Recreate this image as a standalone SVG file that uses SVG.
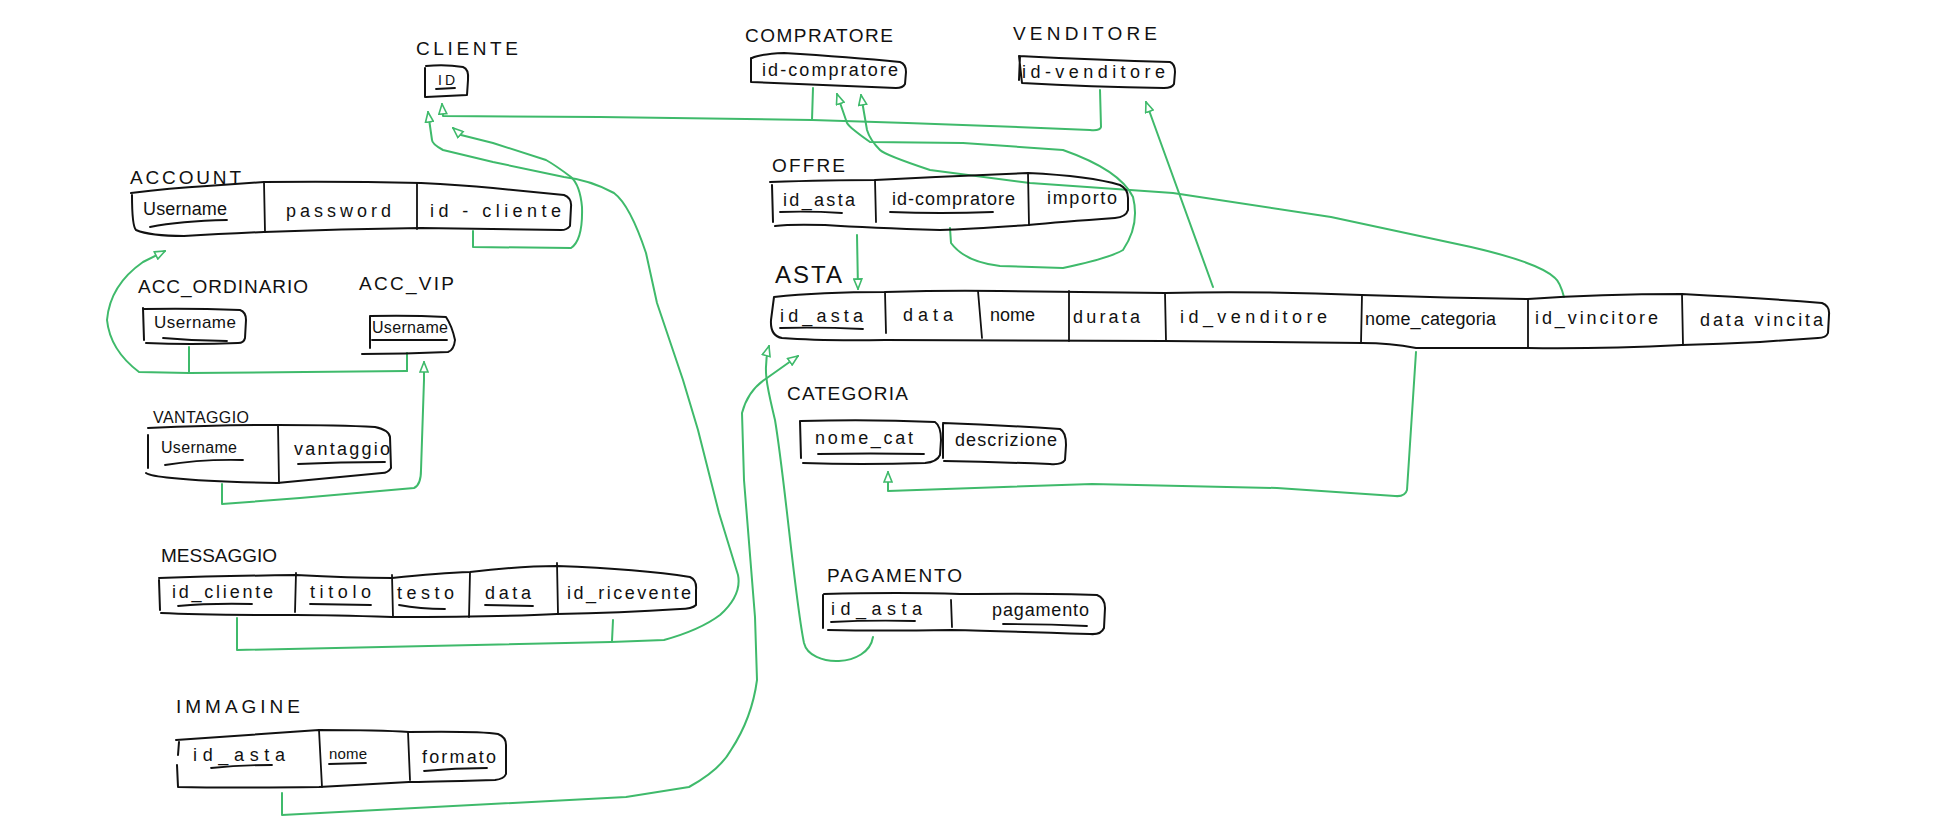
<svg xmlns="http://www.w3.org/2000/svg" width="1935" height="840" viewBox="0 0 1935 840">
<style>
.bx{fill:none;stroke:#111;stroke-width:2;stroke-linejoin:round;stroke-linecap:round}
.dv{fill:none;stroke:#111;stroke-width:1.8;stroke-linecap:round}
.ul{fill:none;stroke:#111;stroke-width:1.8;stroke-linecap:round}
.t{font-family:"Liberation Sans",Arial,sans-serif;font-size:18px;fill:#111}
.l{font-family:"Liberation Sans",Arial,sans-serif;font-size:19px;fill:#111}
.c{fill:none;stroke:#3fba6b;stroke-width:2;stroke-linejoin:round;stroke-linecap:round}
.ca{fill:none;stroke:#3fba6b;stroke-width:2;stroke-linejoin:round;stroke-linecap:round;marker-end:url(#a)}
</style>
<defs>
<marker id="a" viewBox="0 0 12 10" refX="11" refY="5" markerWidth="12" markerHeight="10" markerUnits="userSpaceOnUse" orient="auto">
<path d="M1,1 L11,5 L1,9 Z" fill="#fff" stroke="#3fba6b" stroke-width="1.6"/>
</marker>
</defs>
<rect width="1935" height="840" fill="#fff"/>

<g id="connectors">
<path class="ca" d="M1100,90 L1101,127 Q1100,131 1090,130 Q950,124 812,120 L600,117 L443,116 L442,104"/>
<path class="c" d="M813,88 L812,120"/>
<path class="ca" d="M473,231 L473,247 L571,248 Q583,240 582,207 Q580,185 571,177 Q555,165 546,160 L493,143 L461,135 L453,128"/>
<path class="ca" d="M237,618 L237,650 L611,642 L664,640 Q700,630 720,615 Q742,595 738,575 L719,513 L698,430 L683,380 L657,303 L646,253 Q630,205 614,193 Q590,180 564,177 L493,162 L443,150 Q432,144 432,140 L428,112"/>
<path class="c" d="M613,620 L612,641"/>
<path class="ca" d="M222,484 L222,504 L300,498 L414,488 Q421,485 421,470 L424,380 L424,362"/>
<path class="c" d="M189,347 L189,373"/>
<path class="c" d="M407,353 L407,371"/>
<path class="ca" d="M407,371 L189,373 L139,372 Q110,350 107,320 Q110,285 143,262 L165,251"/>
<path class="ca" d="M857,235 L858,289"/>
<path class="ca" d="M950,228 L951,243 Q965,262 1000,266 L1063,268 Q1110,258 1123,250 Q1140,225 1133,197 Q1120,170 1063,150 L963,143 L870,142 Q850,128 847,123 L837,94"/>
<path class="ca" d="M1564,297 Q1560,282 1555,278 Q1540,263 1471,247 L1331,217 L1173,193 L1130,190 L1030,183 L930,170 Q885,155 880,150 Q870,140 867,130 L861,95"/>
<path class="ca" d="M1213,287 L1146,102"/>
<path class="ca" d="M1416,352 L1407,490 Q1405,497 1395,496 L1277,488 L1092,484 L888,491 L888,472"/>
<path class="ca" d="M873,637 C868,668 810,668 804,643 C795,600 785,480 775,420 C768,390 762,370 769,346"/>
<path class="ca" d="M282,793 L282,815 L626,797 L689,787 Q720,770 731,750 Q752,718 757,680 L755,617 L744,480 L742,413 Q748,390 767,378 L798,356"/>
</g>

<g id="cliente">
<text class="l" x="416" y="55" textLength="102" lengthAdjust="spacing">CLIENTE</text>
<path class="bx" d="M426,66 Q445,64 463,67 Q469,69 468,80 L467,95 L426,97 M425,68 L425,97"/>
<text class="t" x="438" y="85" style="font-size:14px" textLength="17" lengthAdjust="spacing">ID</text>
<path class="ul" d="M436,89 L455,88"/>
</g>

<g id="account">
<text class="l" x="130" y="184" textLength="111" lengthAdjust="spacing">ACCOUNT</text>
<path class="bx" d="M131,193 Q170,188 207,186 L264,182 Q340,181 421,183 Q460,185 493,188 L564,195 Q572,198 571,207 L570,226 Q567,230 561,230 L421,228 Q340,229 264,232 Q220,234 184,236 Q150,236 136,230 Q132,226 132,195"/>
<path class="dv" d="M264,182 L265,232 M417,183 L417,229"/>
<text class="t" x="143" y="215" textLength="84" lengthAdjust="spacing">Username</text>
<path class="ul" d="M150,227 Q180,221 227,220"/>
<text class="t" x="286" y="217" textLength="105" lengthAdjust="spacing">password</text>
<text class="t" x="430" y="217" textLength="131" lengthAdjust="spacing">id - cliente</text>
</g>

<g id="acc_ordinario">
<text class="l" x="138" y="293" textLength="170" lengthAdjust="spacing">ACC_ORDINARIO</text>
<path class="bx" d="M144,309 Q190,308 240,310 Q246,312 246,320 L245,338 Q244,343 238,343 Q190,345 146,343 M143,308 L144,340"/>
<text class="t" x="154" y="328" style="font-size:17px" textLength="82" lengthAdjust="spacing">Username</text>
<path class="ul" d="M163,338 Q195,341 227,341"/>
</g>

<g id="acc_vip">
<text class="l" x="359" y="290" textLength="95" lengthAdjust="spacing">ACC_VIP</text>
<path class="bx" d="M370,316 Q410,315 446,317 Q452,326 455,340 Q454,350 448,352 Q405,354 362,354 M370,316 L370,348"/>
<text class="t" x="372" y="333" style="font-size:16px" textLength="76" lengthAdjust="spacing">Username</text>
<path class="ul" d="M372,340 L447,340"/>
</g>

<g id="vantaggio">
<text class="l" x="153" y="423" style="font-size:16px" textLength="96" lengthAdjust="spacing">VANTAGGIO</text>
<path class="bx" d="M148,428 Q220,425 278,425 Q340,425 375,427 Q389,430 390,437 L391,468 Q388,473 382,473 Q330,478 277,483 Q210,482 172,478 Q150,476 146,473 M148,435 L148,468"/>
<path class="dv" d="M278,425 L279,483"/>
<text class="t" x="161" y="453" style="font-size:16px" textLength="76" lengthAdjust="spacing">Username</text>
<path class="ul" d="M165,465 Q200,459 243,460"/>
<text class="t" x="294" y="455" textLength="96" lengthAdjust="spacing">vantaggio</text>
<path class="ul" d="M298,464 Q340,462 385,462"/>
</g>

<g id="messaggio">
<text class="l" x="161" y="562" textLength="116" lengthAdjust="spacing">MESSAGGIO</text>
<path class="bx" d="M159,578 Q220,576 296,575 Q350,578 392,578 Q440,573 470,572 Q520,566 557,566 Q640,569 690,577 Q697,580 696,590 L696,605 Q692,609 680,609 Q620,613 557,614 Q500,617 392,617 Q330,615 296,615 Q200,615 161,613 M159,580 L160,610"/>
<path class="dv" d="M296,573 L295,612 M392,575 L393,617 M470,573 L469,617 M557,563 L558,614"/>
<text class="t" x="172" y="598" textLength="101" lengthAdjust="spacing">id_cliente</text>
<path class="ul" d="M178,606 Q210,603 252,604"/>
<text class="t" x="310" y="598" textLength="61" lengthAdjust="spacing">titolo</text>
<path class="ul" d="M310,604 L371,605"/>
<text class="t" x="397" y="599" textLength="57" lengthAdjust="spacing">testo</text>
<path class="ul" d="M399,605 Q420,609 445,609"/>
<text class="t" x="485" y="599" textLength="46" lengthAdjust="spacing">data</text>
<path class="ul" d="M485,605 L533,606"/>
<text class="t" x="567" y="599" textLength="124" lengthAdjust="spacing">id_ricevente</text>
</g>

<g id="immagine">
<text class="l" x="176" y="713" textLength="124" lengthAdjust="spacing">IMMAGINE</text>
<path class="bx" d="M176,740 Q250,735 319,730 Q380,730 409,732 Q480,731 498,734 Q506,737 506,745 L506,774 Q504,779 495,780 Q420,782 409,782 Q340,786 319,787 Q230,788 178,787 L177,765 M179,742 L178,755"/>
<path class="dv" d="M319,730 L322,787 M408,732 L410,780"/>
<text class="t" x="193" y="761" textLength="92" lengthAdjust="spacing">id_asta</text>
<path class="ul" d="M211,768 Q240,765 272,765"/>
<text class="t" x="329" y="759" style="font-size:15px" textLength="38" lengthAdjust="spacing">nome</text>
<path class="ul" d="M329,764 L366,763"/>
<text class="t" x="422" y="763" textLength="74" lengthAdjust="spacing">formato</text>
<path class="ul" d="M424,771 Q455,768 487,768"/>
</g>

<g id="compratore">
<text class="l" x="745" y="42" textLength="148" lengthAdjust="spacing">COMPRATORE</text>
<path class="bx" d="M752,58 Q760,54 784,53 Q850,57 900,62 Q906,64 906,72 L905,84 Q903,88 896,88 Q820,85 751,82 L751,58"/>
<text class="t" x="762" y="76" textLength="136" lengthAdjust="spacing">id-compratore</text>
</g>

<g id="venditore">
<text class="l" x="1013" y="40" textLength="144" lengthAdjust="spacing">VENDITORE</text>
<path class="bx" d="M1019,56 Q1100,60 1170,62 Q1175,64 1175,72 L1174,84 Q1172,88 1164,88 Q1090,87 1022,83 L1019,56 M1020,56 L1019,80"/>
<text class="t" x="1022" y="78" textLength="143" lengthAdjust="spacing">id-venditore</text>
</g>

<g id="offre">
<text class="l" x="772" y="172" textLength="73" lengthAdjust="spacing">OFFRE</text>
<path class="bx" d="M770,182 Q830,180 875,180 Q950,176 1028,173 Q1090,176 1120,185 Q1128,189 1128,198 L1128,210 Q1126,217 1115,218 Q1060,222 1028,225 Q970,229 940,230 Q870,228 825,225 Q790,224 775,226 M772,185 L773,222"/>
<path class="dv" d="M875,180 L876,222 M1028,173 L1029,225"/>
<text class="t" x="783" y="206" textLength="72" lengthAdjust="spacing">id_asta</text>
<path class="ul" d="M780,212 Q810,211 842,213"/>
<text class="t" x="892" y="205" textLength="123" lengthAdjust="spacing">id-compratore</text>
<path class="ul" d="M890,212 Q940,214 993,212"/>
<text class="t" x="1047" y="204" textLength="70" lengthAdjust="spacing">importo</text>
</g>

<g id="asta">
<text class="l" x="775" y="283" style="font-size:24px" textLength="67" lengthAdjust="spacing">ASTA</text>
<path class="bx" d="M774,297 Q820,292 885,292 Q950,290 1000,291 L1165,293 Q1260,291 1362,295 Q1450,298 1528,299 Q1600,294 1682,294 Q1760,298 1822,303 Q1830,306 1829,315 L1828,333 Q1826,338 1818,338 Q1790,340 1760,342 Q1720,344 1682,345 Q1600,349 1528,348 Q1470,348 1416,348 Q1390,343 1362,343 L1165,341 Q1000,341 885,340 Q820,341 782,338 Q770,336 771,320 Z"/>
<path class="dv" d="M885,292 L886,333 M978,291 L982,338 M1069,291 L1069,341 M1165,293 L1166,341 M1362,295 L1361,343 M1528,299 L1528,348 M1682,294 L1683,345"/>
<text class="t" x="780" y="322" textLength="83" lengthAdjust="spacing">id_asta</text>
<path class="ul" d="M780,328 Q820,327 863,329"/>
<text class="t" x="903" y="321" textLength="50" lengthAdjust="spacing">data</text>
<text class="t" x="990" y="321" textLength="45" lengthAdjust="spacing">nome</text>
<text class="t" x="1073" y="323" textLength="67" lengthAdjust="spacing">durata</text>
<text class="t" x="1180" y="323" textLength="147" lengthAdjust="spacing">id_venditore</text>
<text class="t" x="1365" y="325" textLength="131" lengthAdjust="spacing">nome_categoria</text>
<text class="t" x="1535" y="324" textLength="123" lengthAdjust="spacing">id_vincitore</text>
<text class="t" x="1700" y="326" textLength="123" lengthAdjust="spacing">data vincita</text>
</g>

<g id="categoria">
<text class="l" x="787" y="400" textLength="121" lengthAdjust="spacing">CATEGORIA</text>
<path class="bx" d="M801,421 Q870,419 935,422 Q941,426 941,440 L940,455 Q937,462 925,463 Q860,465 803,463 M800,421 L801,458"/>
<path class="bx" d="M943,423 Q1000,425 1060,429 Q1066,432 1066,445 L1065,460 Q1062,465 1050,464 Q995,462 944,461 M943,424 L943,458"/>
<text class="t" x="815" y="444" textLength="98" lengthAdjust="spacing">nome_cat</text>
<path class="ul" d="M818,454 Q870,453 924,454"/>
<text class="t" x="955" y="446" textLength="102" lengthAdjust="spacing">descrizione</text>
</g>

<g id="pagamento">
<text class="l" x="827" y="582" textLength="135" lengthAdjust="spacing">PAGAMENTO</text>
<path class="bx" d="M824,594 Q900,592 960,594 Q1050,593 1097,595 Q1105,598 1105,608 L1104,628 Q1101,635 1090,634 Q1000,631 951,630 Q880,631 828,630 M823,595 L823,628"/>
<path class="dv" d="M951,600 L952,627"/>
<text class="t" x="831" y="615" textLength="91" lengthAdjust="spacing">id_asta</text>
<path class="ul" d="M831,622 Q870,620 915,621"/>
<text class="t" x="992" y="616" textLength="97" lengthAdjust="spacing">pagamento</text>
<path class="ul" d="M1003,624 Q1045,624 1087,626"/>
</g>
</svg>
